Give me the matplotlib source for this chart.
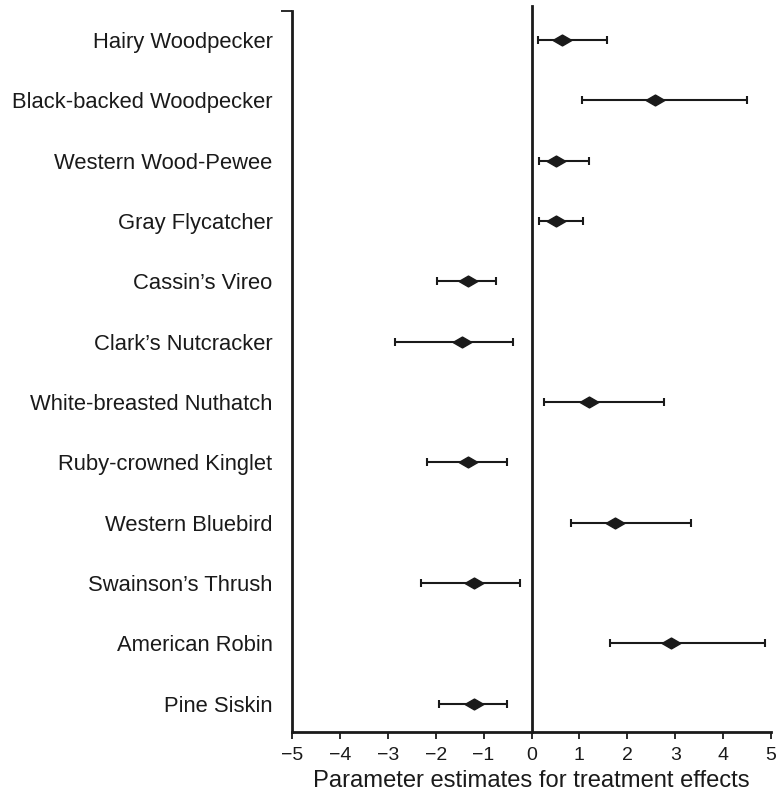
import matplotlib
matplotlib.use("Agg")
import matplotlib.pyplot as plt
from matplotlib.ticker import FixedLocator

plt.rcParams["font.family"] = ["Liberation Sans", "DejaVu Sans"]

# data, top row first
species = [
    "Hairy Woodpecker",
    "Black-backed Woodpecker",
    "Western Wood-Pewee",
    "Gray Flycatcher",
    "Cassin\u2019s Vireo",
    "Clark\u2019s Nutcracker",
    "White-breasted Nuthatch",
    "Ruby-crowned Kinglet",
    "Western Bluebird",
    "Swainson\u2019s Thrush",
    "American Robin",
    "Pine Siskin",
]
estimate = [0.64, 2.58, 0.52, 0.52, -1.33, -1.45, 1.20, -1.33, 1.75, -1.21, 2.91, -1.20]
lower = [0.14, 1.06, 0.15, 0.15, -1.97, -2.85, 0.26, -2.19, 0.82, -2.31, 1.63, -1.93]
upper = [1.58, 4.50, 1.19, 1.08, -0.74, -0.39, 2.77, -0.51, 3.33, -0.24, 4.88, -0.51]
xticks = list(range(-5, 6))

n = len(species)
ypos = [n - 1 - i for i in range(n)]
err_lo = [e - l for e, l in zip(estimate, lower)]
err_hi = [u - e for e, u in zip(estimate, upper)]

fig = plt.figure(figsize=(7.77, 7.98), dpi=100)
ax = fig.add_axes([0.3758, 0.0827, 0.6165, 0.9035])

diamond = [(-1, 0), (0, 0.58), (1, 0), (0, -0.58), (-1, 0)]
ax.errorbar(estimate, ypos, xerr=[err_lo, err_hi], fmt="none",
            ecolor="#1a1a1a", elinewidth=1.5, capsize=3.2, capthick=1.5, zorder=2)
ax.plot(estimate, ypos, linestyle="none", marker=diamond, markersize=13.5,
        color="#1a1a1a", zorder=3)

ax.axvline(0, ymin=0, ymax=1.007, color="#1a1a1a", lw=2, clip_on=False, zorder=1)

ax.set_xlim(-5, 5)
ax.set_ylim(-0.47, n - 1 + 0.48)
ax.set_xticks(xticks)
ax.set_xticklabels([str(t).replace("-", "\u2212") for t in xticks])
ax.set_yticks(ypos)
ax.set_yticklabels(species)
ax.yaxis.set_minor_locator(FixedLocator([n - 1 + 0.48]))

ax.tick_params(axis="x", direction="out", length=5, width=1.3, labelsize=14,
               pad=6, colors="#1a1a1a")
ax.tick_params(axis="y", which="major", length=0, labelsize=15.8, pad=14,
               colors="#1a1a1a")
ax.tick_params(axis="y", which="minor", length=8, width=1.3, colors="#1a1a1a")

for side in ["top", "right"]:
    ax.spines[side].set_visible(False)
for side in ["left", "bottom"]:
    ax.spines[side].set_linewidth(2)
    ax.spines[side].set_color("#1a1a1a")

ax.set_xlabel("Parameter estimates for treatment effects", fontsize=17.1,
              color="#1a1a1a", labelpad=4)

fig.savefig("out.png", dpi=100)
